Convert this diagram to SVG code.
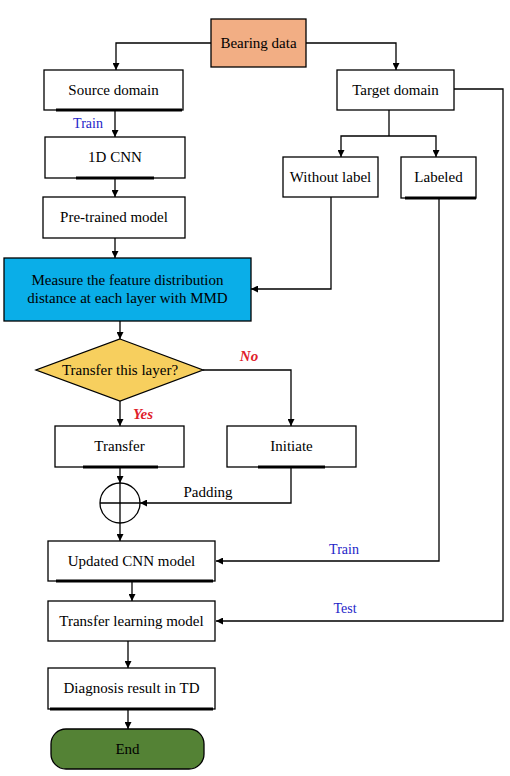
<svg xmlns="http://www.w3.org/2000/svg" width="510" height="776" viewBox="0 0 510 776">
<style>
.box{fill:#fff;stroke:#000;stroke-width:1.3}
.t{font-family:"Liberation Serif","Times New Roman",serif;font-size:15px;fill:#000;text-anchor:middle}
.lbl{font-family:"Liberation Serif","Times New Roman",serif;font-size:14px;fill:#2424C8;text-anchor:middle}
.yn{font-family:"Liberation Serif","Times New Roman",serif;font-size:15px;fill:#E0202A;font-weight:bold;font-style:italic;text-anchor:middle}
.bar{stroke:#000;stroke-width:3}
.c{fill:none;stroke:#000;stroke-width:1.3}
</style>
<defs>
<marker id="ah" viewBox="0 0 10 10" refX="10" refY="5" markerWidth="7" markerHeight="7" markerUnits="userSpaceOnUse" orient="auto">
<path d="M0,0 L10,5 L0,10 z" fill="#000"/>
</marker>
</defs>
<rect width="510" height="776" fill="#fff"/>
<g id="connectors">
<path class="c" d="M211,43 H116 V70" marker-end="url(#ah)"/>
<path class="c" d="M306,43 H396 V70" marker-end="url(#ah)"/>
<path class="c" d="M115,110 V137" marker-end="url(#ah)"/>
<path class="c" d="M115,178 V197" marker-end="url(#ah)"/>
<path class="c" d="M115,238 V258" marker-end="url(#ah)"/>
<path class="c" d="M389,110 V136"/>
<path class="c" d="M389,136 H341 V157" marker-end="url(#ah)"/>
<path class="c" d="M389,136 H436 V157" marker-end="url(#ah)"/>
<path class="c" d="M331,197 V289 H251" marker-end="url(#ah)"/>
<path class="c" d="M120,321 V339" marker-end="url(#ah)"/>
<path class="c" d="M203,370 H291 V426" marker-end="url(#ah)"/>
<path class="c" d="M120,401 V426" marker-end="url(#ah)"/>
<path class="c" d="M120,467 V483" marker-end="url(#ah)"/>
<path class="c" d="M291,467 V503 H140" marker-end="url(#ah)"/>
<path class="c" d="M120,523 V541" marker-end="url(#ah)"/>
<path class="c" d="M439,198 V561 H216" marker-end="url(#ah)"/>
<path class="c" d="M454,89 H503 V621 H216" marker-end="url(#ah)"/>
<path class="c" d="M132,581 V601" marker-end="url(#ah)"/>
<path class="c" d="M128,641 V668" marker-end="url(#ah)"/>
<path class="c" d="M128,709 V729" marker-end="url(#ah)"/>
<text class="lbl" x="88" y="128">Train</text>
<text class="yn" x="249" y="361">No</text>
<text class="yn" x="143" y="419">Yes</text>
<text class="t" x="208" y="497">Padding</text>
<text class="lbl" x="344" y="554">Train</text>
<text class="lbl" x="345" y="613">Test</text>
</g>
<g id="bearing-data">
<rect x="211" y="19" width="95" height="48" fill="#F2AE84" stroke="#000" stroke-width="1.3"/>
<text class="t" x="258.5" y="48">Bearing data</text>
</g>
<g id="source-domain">
<rect class="box" x="44" y="70" width="139" height="40"/>
<line class="bar" x1="56" y1="110" x2="182" y2="110" stroke-width="2"/>
<text class="t" x="113.5" y="95">Source domain</text>
</g>
<g id="target-domain">
<rect class="box" x="337" y="70" width="117" height="40"/>
<text class="t" x="395.5" y="95">Target domain</text>
</g>
<g id="cnn-1d">
<rect class="box" x="45" y="137" width="140" height="41"/>
<line class="bar" x1="76" y1="178" x2="154" y2="178"/>
<text class="t" x="115" y="162">1D CNN</text>
</g>
<g id="without-label">
<rect class="box" x="283" y="157" width="95" height="40"/>
<text class="t" x="330.5" y="182">Without label</text>
</g>
<g id="labeled">
<rect class="box" x="401" y="157" width="75" height="41"/>
<line class="bar" x1="405" y1="198" x2="476" y2="198" stroke-width="2"/>
<text class="t" x="438.5" y="182">Labeled</text>
</g>
<g id="pretrained">
<rect class="box" x="43" y="197" width="142" height="41"/>
<text class="t" x="114" y="222">Pre-trained model</text>
</g>
<g id="measure">
<rect x="4" y="258" width="247" height="63" fill="#0AAEE8" stroke="#000" stroke-width="1.3"/>
<text class="t" x="127.5" y="285">Measure the feature distribution</text>
<text class="t" x="127.5" y="303">distance at each layer with MMD</text>
</g>
<g id="decision">
<polygon points="120,339 203,370 120,401 36,370" fill="#F7CF5E" stroke="#000" stroke-width="1.3"/>
<text class="t" x="120" y="375">Transfer this layer?</text>
</g>
<g id="transfer">
<rect class="box" x="55" y="426" width="129" height="41"/>
<line class="bar" x1="83" y1="467" x2="158" y2="467"/>
<text class="t" x="119.5" y="451">Transfer</text>
</g>
<g id="initiate">
<rect class="box" x="227" y="426" width="129" height="41"/>
<line class="bar" x1="258" y1="467" x2="325" y2="467"/>
<text class="t" x="291.5" y="451">Initiate</text>
</g>
<g id="sum">
<circle cx="120" cy="503" r="20" fill="#fff" stroke="#000" stroke-width="1.3"/>
<line x1="100" y1="503" x2="140" y2="503" stroke="#000" stroke-width="1.3"/>
<line x1="120" y1="483" x2="120" y2="523" stroke="#000" stroke-width="1.3"/>
</g>
<g id="updated-cnn">
<rect class="box" x="48" y="541" width="167" height="40"/>
<line class="bar" x1="56" y1="581" x2="213" y2="581" stroke-width="2"/>
<text class="t" x="131.5" y="566">Updated CNN model</text>
</g>
<g id="transfer-learning">
<rect class="box" x="48" y="601" width="167" height="40"/>
<text class="t" x="131.5" y="626">Transfer learning model</text>
</g>
<g id="diagnosis">
<rect class="box" x="48" y="668" width="167" height="41"/>
<line class="bar" x1="50" y1="709" x2="213" y2="709" stroke-width="2"/>
<text class="t" x="131.5" y="693">Diagnosis result in TD</text>
</g>
<g id="end">
<rect x="51" y="729" width="153" height="40" rx="15" ry="15" fill="#548235" stroke="#000" stroke-width="1.3"/>
<text class="t" x="127.5" y="754">End</text>
</g>
</svg>
